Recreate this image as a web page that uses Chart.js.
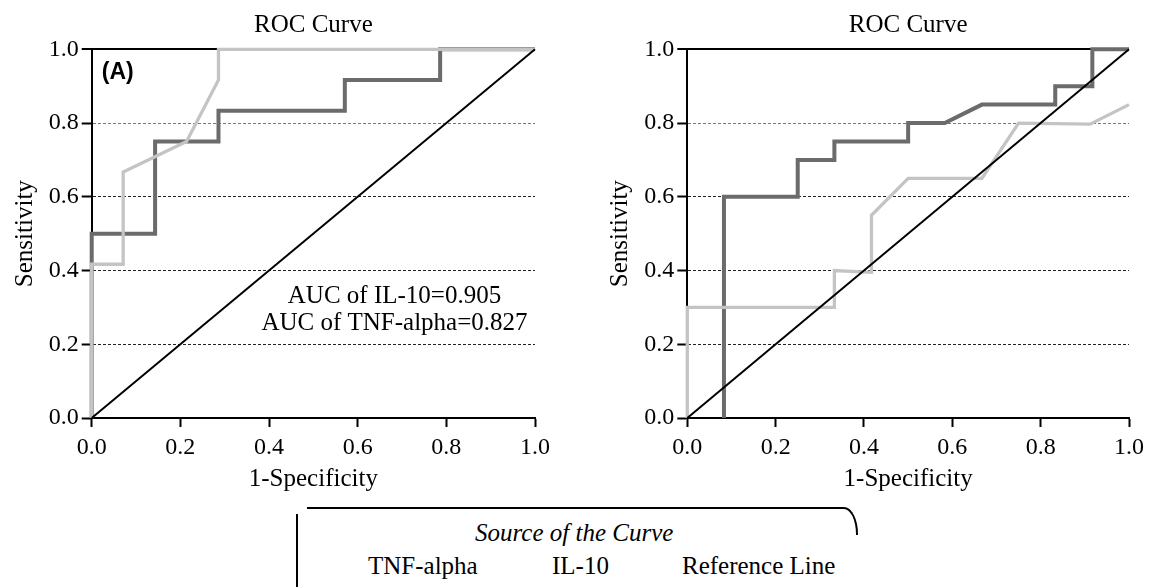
<!DOCTYPE html>
<html>
<head>
<meta charset="utf-8">
<script src="https://cdn.jsdelivr.net/npm/chart.js@4.4.1/dist/chart.umd.min.js"></script>
<style>
  body { margin: 0; background: #fff; }
  #wrap { position: relative; width: 1150px; height: 587px; overflow: hidden; font-family: "Liberation Serif", "Times New Roman", serif; }
  canvas { position: absolute; top: 0; }
  .lg { position: absolute; font-size: 25px; line-height: 28px; white-space: nowrap; color: #000; }
</style>
</head>
<body>
<div id="wrap">
  <canvas id="left" width="575" height="500" style="left:0"></canvas>
  <canvas id="right" width="575" height="500" style="left:575px"></canvas>

  <div style="position:absolute; left:296px; top:514px; width:2px; height:73px; background:#000"></div>
  <div style="position:absolute; left:307px; top:507px; width:551px; height:28px; border-top:2px solid #000; border-right:2px solid #000; border-top-right-radius:14px 27px; box-sizing:border-box"></div>
  <div class="lg" style="left:475px; top:519px; font-style:italic">Source of the Curve</div>
  <div class="lg" style="left:368px; top:552px">TNF-alpha</div>
  <div class="lg" style="left:552px; top:552px">IL-10</div>
  <div class="lg" style="left:682px; top:552px">Reference Line</div>
</div>
<script>
// ROC points, (1-specificity, sensitivity)
var tnfLeftX = [0, 0, 0.071, 0.071, 0.214, 0.286, 0.286, 1];
var tnfLeftY = [0, 0.417, 0.417, 0.667, 0.75, 0.917, 1, 1];
var ilLeftX = [0, 0, 0.143, 0.143, 0.286, 0.286, 0.571, 0.571, 0.786, 0.786, 1];
var ilLeftY = [0, 0.5, 0.5, 0.75, 0.75, 0.833, 0.833, 0.917, 0.917, 1, 1];

var tnfRightX = [0, 0, 0.333, 0.333, 0.417, 0.417, 0.5, 0.667, 0.75, 0.912, 1];
var tnfRightY = [0, 0.3, 0.3, 0.4, 0.395, 0.55, 0.65, 0.65, 0.8, 0.797, 0.85];
var ilRightX = [0.083, 0.083, 0.25, 0.25, 0.333, 0.333, 0.5, 0.5, 0.583, 0.667, 0.833, 0.833, 0.917, 0.917, 1];
var ilRightY = [0, 0.6, 0.6, 0.7, 0.7, 0.75, 0.75, 0.8, 0.8, 0.85, 0.85, 0.9, 0.9, 1, 1];

var refX = [0, 1];
var refY = [0, 1];

var tickValues = [0, 0.2, 0.4, 0.6, 0.8, 1.0];
var aucLines = ['AUC of IL-10=0.905', 'AUC of TNF-alpha=0.827'];

var serif = '"Liberation Serif", "Times New Roman", serif';
Chart.defaults.font.family = serif;
Chart.defaults.color = '#000';

function pts(xs, ys) {
    return xs.map(function(x, i) { return {x: x, y: ys[i]}; });
}

function line(label, xs, ys, color, width) {
    return {
        label: label,
        data: pts(xs, ys),
        borderColor: color,
        borderWidth: width,
        showLine: true,
        pointRadius: 0,
        tension: 0,
        clip: false
    };
}

function setTicks(scale) {
    scale.ticks = tickValues.map(function(v) { return {value: v}; });
}

function makeChart(id, tnfX, tnfY, ilX, ilY, padLeft, padRight, extra) {
    var ctx = document.getElementById(id).getContext('2d');
    return new Chart(ctx, {
        type: 'scatter',
        data: {
            datasets: [
                line('Reference Line', refX, refY, '#000', 2),
                line('TNF-alpha', tnfX, tnfY, '#c4c4c4', 3.3),
                line('IL-10', ilX, ilY, '#6b6b6b', 4)
            ]
        },
        options: {
            responsive: false,
            animation: false,
            layout: { padding: { left: padLeft, right: padRight, top: 0, bottom: 0 } },
            plugins: {
                legend: { display: false },
                tooltip: { enabled: false },
                title: {
                    display: true,
                    text: 'ROC Curve',
                    fullSize: false,
                    color: '#000',
                    font: { size: 25, weight: 'normal', lineHeight: 1.2 },
                    padding: { top: 10.4, bottom: 8.9 }
                }
            },
            scales: {
                x: {
                    type: 'linear',
                    min: 0, max: 1,
                    afterBuildTicks: setTicks,
                    afterFit: function(s) { s.height = 82; },
                    ticks: {
                        padding: 6,
                        font: { size: 24, lineHeight: 1.2 },
                        color: '#000',
                        maxRotation: 0,
                        callback: function(v) { return v.toFixed(1); }
                    },
                    grid: { drawOnChartArea: false, drawTicks: true, tickLength: 9, tickColor: '#000', tickWidth: 2 },
                    border: { color: '#000', width: 2 },
                    title: { display: true, text: '1-Specificity', font: { size: 25, lineHeight: 1.2 }, padding: { top: 0, bottom: 5.5 } }
                },
                y: {
                    type: 'linear',
                    min: 0, max: 1,
                    afterBuildTicks: setTicks,
                    afterFit: function(s) { s.width = 91.7; },
                    ticks: {
                        padding: 3,
                        font: { size: 24, lineHeight: 1.2 },
                        color: '#000',
                        callback: function(v) { return v.toFixed(1); }
                    },
                    grid: {
                        drawTicks: true,
                        tickLength: 10,
                        tickColor: '#000',
                        tickWidth: 2,
                        color: function(c) {
                            if (!c.tick) return 'transparent';
                            var v = c.tick.value;
                            if (v === 0) return 'transparent';
                            if (v === 1) return '#000';
                            if (Math.abs(v - 0.8) < 1e-6) return '#777';
                            return '#222';
                        },
                        lineWidth: function(c) {
                            return c.tick && c.tick.value === 1 ? 2 : 1;
                        }
                    },
                    border: {
                        color: '#000',
                        width: 2,
                        dash: function(c) {
                            if (!c.tick) return [];
                            var v = c.tick.value;
                            return (v > 0 && v < 1) ? [3, 2] : [];
                        }
                    },
                    title: { display: true, text: 'Sensitivity', font: { size: 25, lineHeight: 1.2 }, padding: { top: 10, bottom: 0 } }
                }
            }
        },
        plugins: extra ? [extra] : []
    });
}

var leftNotes = {
    id: 'leftNotes',
    afterDatasetsDraw: function(chart) {
        var c = chart.ctx, xs = chart.scales.x, ys = chart.scales.y;
        c.save();
        c.fillStyle = '#000';
        c.textBaseline = 'alphabetic';
        c.font = 'bold 23px "Liberation Sans", Arial, sans-serif';
        c.textAlign = 'left';
        c.fillText('(A)', xs.getPixelForValue(0.0226), ys.getPixelForValue(0.919));
        c.font = '25px ' + serif;
        c.textAlign = 'center';
        c.fillText(aucLines[0], xs.getPixelForValue(0.683), ys.getPixelForValue(0.312));
        c.fillText(aucLines[1], xs.getPixelForValue(0.683), ys.getPixelForValue(0.239));
        c.restore();
    }
};

makeChart('left', tnfLeftX, tnfLeftY, ilLeftX, ilLeftY, 0, 40, leftNotes);
makeChart('right', tnfRightX, tnfRightY, ilRightX, ilRightY, 20.6, 17.5, null);
</script>
</body>
</html>
